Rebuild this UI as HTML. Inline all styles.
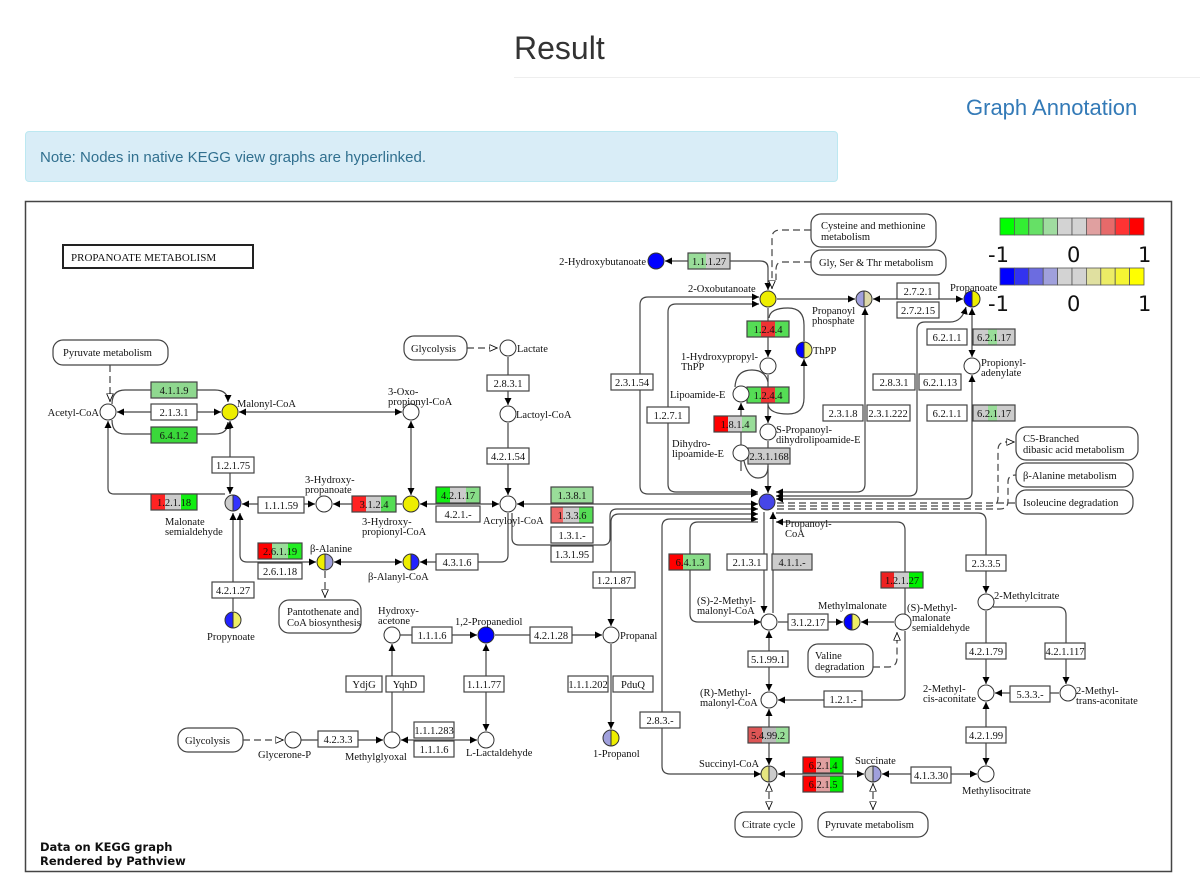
<!DOCTYPE html>
<html><head><meta charset="utf-8"><style>
body{margin:0;width:1200px;height:886px;background:#fff;position:relative;overflow:hidden;font-family:"Liberation Sans",sans-serif}
.h{position:absolute;left:514px;top:30px;font-size:32px;color:#333}
.hr{position:absolute;left:514px;top:77px;width:686px;border-top:1px solid #eee}
.ga{position:absolute;left:966px;top:95px;font-size:22px;color:#337ab7}
.al{position:absolute;left:25px;top:131px;width:813px;height:51px;background:#d9edf7;border:1px solid #bce8f1;border-radius:4px;box-sizing:border-box}
.al span{position:absolute;left:14px;top:17px;font-size:15px;color:#31708f}
svg{position:absolute;left:0;top:0}
svg text{font-family:"Liberation Serif",serif;font-size:10.5px;fill:#111}
.e rect.b{fill:none;stroke:#444;stroke-width:1.2}
.ln{fill:none;stroke:#444;stroke-width:1.2}
.ds{fill:none;stroke:#444;stroke-width:1.2;stroke-dasharray:7,4}
.m{fill:#fff;stroke:#444;stroke-width:1.2}
</style></head><body>
<div class="h">Result</div><div class="hr"></div>
<div class="ga">Graph Annotation</div>
<div class="al"><span>Note: Nodes in native KEGG view graphs are hyperlinked.</span></div>
<svg width="1200" height="886" viewBox="0 0 1200 886">
<defs>
<marker id="a" viewBox="0 0 10 10" refX="10" refY="5" markerWidth="6" markerHeight="6" orient="auto-start-reverse"><path d="M0,0L10,5L0,10z" fill="#000"/></marker>
<marker id="o" viewBox="0 0 10 10" refX="10" refY="5" markerWidth="7" markerHeight="7" orient="auto-start-reverse"><path d="M0,1L9,5L0,9z" fill="#fff" stroke="#000" stroke-width="1"/></marker>
</defs>
<rect x="25.5" y="201.5" width="1146" height="670" fill="#fff" stroke="#444" stroke-width="1.5"/>
<rect x="63" y="245" width="190" height="23" fill="#fff" stroke="#222" stroke-width="2"/>
<text x="71" y="261" style="font-size:11px">PROPANOATE  METABOLISM</text>

<!-- legend -->
<g stroke="#555" stroke-width="0.8">
<rect x="1000" y="218" width="14.4" height="17" fill="#00ff00"/><rect x="1014.4" y="218" width="14.4" height="17" fill="#33ee33"/><rect x="1028.8" y="218" width="14.4" height="17" fill="#66e066"/><rect x="1043.2" y="218" width="14.4" height="17" fill="#a0dca0"/><rect x="1057.6" y="218" width="14.4" height="17" fill="#d3d3d3"/><rect x="1072" y="218" width="14.4" height="17" fill="#d3d3d3"/><rect x="1086.4" y="218" width="14.4" height="17" fill="#e0a0a0"/><rect x="1100.8" y="218" width="14.4" height="17" fill="#e66a6a"/><rect x="1115.2" y="218" width="14.4" height="17" fill="#f33"/><rect x="1129.6" y="218" width="14.4" height="17" fill="#f00"/>
<rect x="1000" y="268" width="14.4" height="17" fill="#0000ff"/><rect x="1014.4" y="268" width="14.4" height="17" fill="#3333f0"/><rect x="1028.8" y="268" width="14.4" height="17" fill="#6c6ce0"/><rect x="1043.2" y="268" width="14.4" height="17" fill="#a0a0dc"/><rect x="1057.6" y="268" width="14.4" height="17" fill="#d3d3d3"/><rect x="1072" y="268" width="14.4" height="17" fill="#d3d3d3"/><rect x="1086.4" y="268" width="14.4" height="17" fill="#e0e0a0"/><rect x="1100.8" y="268" width="14.4" height="17" fill="#ecec66"/><rect x="1115.2" y="268" width="14.4" height="17" fill="#f5f533"/><rect x="1129.6" y="268" width="14.4" height="17" fill="#ffff00"/>
</g>
<text x="988" y="262" style="font-family:'DejaVu Sans',sans-serif;font-size:21px">-1</text><text x="1067" y="262" style="font-family:'DejaVu Sans',sans-serif;font-size:21px">0</text><text x="1138" y="262" style="font-family:'DejaVu Sans',sans-serif;font-size:21px">1</text>
<text x="988" y="311" style="font-family:'DejaVu Sans',sans-serif;font-size:21px">-1</text><text x="1067" y="311" style="font-family:'DejaVu Sans',sans-serif;font-size:21px">0</text><text x="1138" y="311" style="font-family:'DejaVu Sans',sans-serif;font-size:21px">1</text>

<!-- lines -->
<g class="ln">
<path class="ds" d="M110,365V402" marker-end="url(#o)"/>
<path d="M117,412H221" marker-start="url(#a)" marker-end="url(#a)"/>
<path d="M112,404Q112,390 125,390H215Q228,390 228,402" marker-end="url(#a)"/>
<path d="M112,420Q112,434 125,434H215Q228,434 228,422" marker-end="url(#a)"/>
<path d="M239,412H402" marker-start="url(#a)" marker-end="url(#a)"/>
<path d="M230,421V494" marker-start="url(#a)" marker-end="url(#a)"/>
<path d="M108,421V488Q108,494 114,494H225" marker-start="url(#a)"/>
<path d="M242,504H315" marker-start="url(#a)" marker-end="url(#a)"/>
<path d="M333,504H402" marker-start="url(#a)"/>
<path d="M420,504H499" marker-start="url(#a)" marker-end="url(#a)"/>
<path d="M411,421V495" marker-start="url(#a)" marker-end="url(#a)"/>
<path class="ds" d="M467,348H498" marker-end="url(#o)"/>
<path d="M508,357V405" marker-end="url(#a)"/>
<path d="M508,423V495" marker-end="url(#a)"/>
<path d="M517,504H758" marker-start="url(#a)" marker-end="url(#a)"/>
<path d="M508,513V555Q508,562 501,562H420" marker-end="url(#a)"/>
<path d="M334,562H402" marker-start="url(#a)" marker-end="url(#a)"/>
<path d="M240,513V555Q240,562 247,562H316" marker-start="url(#a)" marker-end="url(#a)"/>
<path d="M233,513V611" marker-start="url(#a)"/>
<path class="ds" d="M325,571V598" marker-end="url(#o)"/>
<path d="M512,513V538Q512,545 519,545H603Q610,545 610,538V516Q610,509 617,509H758" marker-end="url(#a)"/>
<path d="M611,626V522Q611,514 619,514H758" marker-start="url(#a)" marker-end="url(#a)"/>
<path d="M761,774H670Q662,774 662,766V527Q662,519 670,519H758" marker-start="url(#a)" marker-end="url(#a)"/>
<path d="M761,622H698Q690,622 690,614V530Q690,522 698,522H758" marker-start="url(#a)"/>
<path d="M764,512V613" marker-end="url(#a)"/>
<path d="M773,613V512" marker-end="url(#a)"/>
<path d="M905,614V530Q905,522 897,522H776" marker-end="url(#a)"/>
<path d="M776,513H978Q986,513 986,521V593" marker-end="url(#a)"/>
<path d="M986,611V684" marker-end="url(#a)"/>
<path d="M993,607H1058Q1066,607 1066,615V684" marker-end="url(#a)"/>
<path d="M1059,693H995" marker-end="url(#a)"/>
<path d="M986,765V702" marker-start="url(#a)" marker-end="url(#a)"/>
<path d="M882,774H977" marker-start="url(#a)" marker-end="url(#a)"/>
<path d="M778,774H864" marker-start="url(#a)" marker-end="url(#a)"/>
<path class="ds" d="M769,810V783" marker-start="url(#o)" marker-end="url(#o)"/>
<path class="ds" d="M873,810V783" marker-start="url(#o)" marker-end="url(#o)"/>
<path d="M769,709V765" marker-start="url(#a)" marker-end="url(#a)"/>
<path d="M769,631V691" marker-start="url(#a)" marker-end="url(#a)"/>
<path d="M894,622H861" marker-end="url(#a)"/>
<path d="M778,622H843" marker-end="url(#a)"/>
<path d="M905,631V693Q905,700 898,700H778" marker-end="url(#a)"/>
<path class="ds" d="M873,667H888Q897,667 897,658V632" marker-end="url(#o)"/>
<path d="M768,290V268Q768,261 760,261H665" marker-start="url(#a)" marker-end="url(#a)"/>
<path class="ds" d="M811,230H780Q772,230 772,238V289" marker-end="url(#o)"/>
<path class="ds" d="M811,262H782Q776,262 776,270V280"/>
<path d="M777,299H855" marker-end="url(#a)"/>
<path d="M873,299H963" marker-start="url(#a)" marker-end="url(#a)"/>
<path d="M972,308V357" marker-start="url(#a)" marker-end="url(#a)"/>
<path d="M972,375V492Q972,499 964,499H776" marker-start="url(#a)" marker-end="url(#a)"/>
<path d="M966,307Q962,322 950,322H925Q917,322 917,330V488Q917,496 909,496H776" marker-start="url(#a)" marker-end="url(#a)"/>
<path d="M865,308V484Q865,492 857,492H776" marker-start="url(#a)" marker-end="url(#a)"/>
<path d="M759,297H648Q640,297 640,305V486Q640,494 648,494H758" marker-start="url(#a)" marker-end="url(#a)"/>
<path d="M759,304H676Q668,304 668,312V484Q668,492 676,492H758" marker-start="url(#a)" marker-end="url(#a)"/>
<path d="M768,308V357" marker-end="url(#a)"/>
<path d="M768,375V423" marker-end="url(#a)"/>
<path d="M768,441V493" marker-end="url(#a)"/>
<path d="M769,318Q770,308 788,308Q804,308 804,325V341"/>
<path d="M804,359V398Q804,414 788,414Q770,414 768,405" marker-start="url(#a)"/>
<path d="M768,382Q765,370 752,370Q736,370 735,387"/>
<path d="M741,445V403" marker-end="url(#a)"/>
<path d="M744,461Q748,478 758,478Q768,478 768,466"/>
<path d="M741,461V471" />
<path class="ds" d="M777,506H990Q998,506 998,498V450Q998,442 1006,442H1015" marker-end="url(#o)"/>
<path class="ds" d="M777,509H1000Q1008,509 1008,501V482Q1008,475 1016,475"/>
<path class="ds" d="M777,503H1016"/>
<path class="ds" d="M243,740H284" marker-end="url(#o)"/>
<path d="M301,740H383" marker-end="url(#a)"/>
<path d="M392,732V644" marker-end="url(#a)"/>
<path d="M401,740H477" marker-start="url(#a)" marker-end="url(#a)"/>
<path d="M486,731V644" marker-start="url(#a)" marker-end="url(#a)"/>
<path d="M400,635H477" marker-end="url(#a)"/>
<path d="M495,635H602" marker-end="url(#a)"/>
<path d="M611,644V729" marker-end="url(#a)"/>
</g>

<!-- enzymes -->
<g class="e">
<rect x="151" y="382" width="46" height="16" fill="#8fd88f"/><rect class="b" x="151" y="382" width="46" height="16"/><text x="174" y="394" text-anchor="middle">4.1.1.9</text>
<rect x="151" y="404" width="46" height="16" fill="#fff"/><rect class="b" x="151" y="404" width="46" height="16"/><text x="174" y="416" text-anchor="middle">2.1.3.1</text>
<rect x="151" y="427" width="46" height="16" fill="#3ad83a"/><rect class="b" x="151" y="427" width="46" height="16"/><text x="174" y="439" text-anchor="middle">6.4.1.2</text>
<rect x="212" y="457" width="42" height="16" fill="#fff"/><rect class="b" x="212" y="457" width="42" height="16"/><text x="233" y="469" text-anchor="middle">1.2.1.75</text>
<rect x="151" y="494" width="14" height="16" fill="#f22"/><rect x="165" y="494" width="16" height="16" fill="#ccc"/><rect x="181" y="494" width="16" height="16" fill="#1e1"/><rect class="b" x="151" y="494" width="46" height="16"/><text x="174" y="506" text-anchor="middle">1.2.1.18</text>
<rect x="258" y="497" width="46" height="16" fill="#fff"/><rect class="b" x="258" y="497" width="46" height="16"/><text x="281" y="509" text-anchor="middle">1.1.1.59</text>
<rect x="352" y="496" width="14" height="16" fill="#f22"/><rect x="366" y="496" width="15" height="16" fill="#ccc"/><rect x="381" y="496" width="15" height="16" fill="#5d5"/><rect class="b" x="352" y="496" width="44" height="16"/><text x="374" y="508" text-anchor="middle">3.1.2.4</text>
<rect x="436" y="487" width="14" height="16" fill="#1e1"/><rect x="450" y="487" width="16" height="16" fill="#ccc"/><rect x="466" y="487" width="14" height="16" fill="#8d8"/><rect class="b" x="436" y="487" width="44" height="16"/><text x="458" y="499" text-anchor="middle">4.2.1.17</text>
<rect x="436" y="506" width="44" height="16" fill="#fff"/><rect class="b" x="436" y="506" width="44" height="16"/><text x="458" y="518" text-anchor="middle">4.2.1.-</text>
<rect x="487" y="375" width="42" height="16" fill="#fff"/><rect class="b" x="487" y="375" width="42" height="16"/><text x="508" y="387" text-anchor="middle">2.8.3.1</text>
<rect x="487" y="448" width="42" height="16" fill="#fff"/><rect class="b" x="487" y="448" width="42" height="16"/><text x="508" y="460" text-anchor="middle">4.2.1.54</text>
<rect x="551" y="487" width="42" height="16" fill="#99dd99"/><rect class="b" x="551" y="487" width="42" height="16"/><text x="572" y="499" text-anchor="middle">1.3.8.1</text>
<rect x="551" y="507" width="12" height="16" fill="#e66"/><rect x="563" y="507" width="16" height="16" fill="#ccc"/><rect x="579" y="507" width="14" height="16" fill="#5d5"/><rect class="b" x="551" y="507" width="42" height="16"/><text x="572" y="519" text-anchor="middle">1.3.3.6</text>
<rect x="551" y="527" width="42" height="16" fill="#fff"/><rect class="b" x="551" y="527" width="42" height="16"/><text x="572" y="539" text-anchor="middle">1.3.1.-</text>
<rect x="551" y="546" width="42" height="16" fill="#fff"/><rect class="b" x="551" y="546" width="42" height="16"/><text x="572" y="558" text-anchor="middle">1.3.1.95</text>
<rect x="593" y="572" width="42" height="16" fill="#fff"/><rect class="b" x="593" y="572" width="42" height="16"/><text x="614" y="584" text-anchor="middle">1.2.1.87</text>
<rect x="212" y="582" width="42" height="16" fill="#fff"/><rect class="b" x="212" y="582" width="42" height="16"/><text x="233" y="594" text-anchor="middle">4.2.1.27</text>
<rect x="258" y="543" width="14" height="16" fill="#f00"/><rect x="272" y="543" width="16" height="16" fill="#9d9"/><rect x="288" y="543" width="14" height="16" fill="#2e2"/><rect class="b" x="258" y="543" width="44" height="16"/><text x="280" y="555" text-anchor="middle">2.6.1.19</text>
<rect x="258" y="563" width="44" height="16" fill="#fff"/><rect class="b" x="258" y="563" width="44" height="16"/><text x="280" y="575" text-anchor="middle">2.6.1.18</text>
<rect x="436" y="554" width="42" height="16" fill="#fff"/><rect class="b" x="436" y="554" width="42" height="16"/><text x="457" y="566" text-anchor="middle">4.3.1.6</text>
<rect x="412" y="627" width="40" height="16" fill="#fff"/><rect class="b" x="412" y="627" width="40" height="16"/><text x="432" y="639" text-anchor="middle">1.1.1.6</text>
<rect x="530" y="627" width="42" height="16" fill="#fff"/><rect class="b" x="530" y="627" width="42" height="16"/><text x="551" y="639" text-anchor="middle">4.2.1.28</text>
<rect x="346" y="676" width="36" height="16" fill="#fff"/><rect class="b" x="346" y="676" width="36" height="16"/><text x="364" y="688" text-anchor="middle">YdjG</text>
<rect x="386" y="676" width="38" height="16" fill="#fff"/><rect class="b" x="386" y="676" width="38" height="16"/><text x="405" y="688" text-anchor="middle">YqhD</text>
<rect x="464" y="676" width="40" height="16" fill="#fff"/><rect class="b" x="464" y="676" width="40" height="16"/><text x="484" y="688" text-anchor="middle">1.1.1.77</text>
<rect x="568" y="676" width="40" height="16" fill="#fff"/><rect class="b" x="568" y="676" width="40" height="16"/><text x="588" y="688" text-anchor="middle">1.1.1.202</text>
<rect x="613" y="676" width="40" height="16" fill="#fff"/><rect class="b" x="613" y="676" width="40" height="16"/><text x="633" y="688" text-anchor="middle">PduQ</text>
<rect x="318" y="731" width="40" height="16" fill="#fff"/><rect class="b" x="318" y="731" width="40" height="16"/><text x="338" y="743" text-anchor="middle">4.2.3.3</text>
<rect x="414" y="722" width="40" height="16" fill="#fff"/><rect class="b" x="414" y="722" width="40" height="16"/><text x="434" y="734" text-anchor="middle">1.1.1.283</text>
<rect x="414" y="741" width="40" height="16" fill="#fff"/><rect class="b" x="414" y="741" width="40" height="16"/><text x="434" y="753" text-anchor="middle">1.1.1.6</text>
<rect x="688" y="253" width="18" height="16" fill="#9d9"/><rect x="706" y="253" width="24" height="16" fill="#ccc"/><rect class="b" x="688" y="253" width="42" height="16"/><text x="709" y="265" text-anchor="middle">1.1.1.27</text>
<rect x="747" y="321" width="14" height="16" fill="#5d5"/><rect x="761" y="321" width="14" height="16" fill="#e33"/><rect x="775" y="321" width="14" height="16" fill="#5d5"/><rect class="b" x="747" y="321" width="42" height="16"/><text x="768" y="333" text-anchor="middle">1.2.4.4</text>
<rect x="747" y="387" width="14" height="16" fill="#5d5"/><rect x="761" y="387" width="14" height="16" fill="#e33"/><rect x="775" y="387" width="14" height="16" fill="#5d5"/><rect class="b" x="747" y="387" width="42" height="16"/><text x="768" y="399" text-anchor="middle">1.2.4.4</text>
<rect x="714" y="416" width="14" height="16" fill="#f00"/><rect x="728" y="416" width="14" height="16" fill="#ccc"/><rect x="742" y="416" width="14" height="16" fill="#9d9"/><rect class="b" x="714" y="416" width="42" height="16"/><text x="735" y="428" text-anchor="middle">1.8.1.4</text>
<rect x="748" y="448" width="42" height="16" fill="#ccc"/><rect class="b" x="748" y="448" width="42" height="16"/><text x="769" y="460" text-anchor="middle">2.3.1.168</text>
<rect x="611" y="374" width="42" height="16" fill="#fff"/><rect class="b" x="611" y="374" width="42" height="16"/><text x="632" y="386" text-anchor="middle">2.3.1.54</text>
<rect x="647" y="407" width="42" height="16" fill="#fff"/><rect class="b" x="647" y="407" width="42" height="16"/><text x="668" y="419" text-anchor="middle">1.2.7.1</text>
<rect x="823" y="405" width="40" height="16" fill="#fff"/><rect class="b" x="823" y="405" width="40" height="16"/><text x="843" y="417" text-anchor="middle">2.3.1.8</text>
<rect x="867" y="405" width="43" height="16" fill="#fff"/><rect class="b" x="867" y="405" width="43" height="16"/><text x="888" y="417" text-anchor="middle">2.3.1.222</text>
<rect x="873" y="374" width="42" height="16" fill="#fff"/><rect class="b" x="873" y="374" width="42" height="16"/><text x="894" y="386" text-anchor="middle">2.8.3.1</text>
<rect x="919" y="374" width="42" height="16" fill="#fff"/><rect class="b" x="919" y="374" width="42" height="16"/><text x="940" y="386" text-anchor="middle">6.2.1.13</text>
<rect x="897" y="283" width="42" height="16" fill="#fff"/><rect class="b" x="897" y="283" width="42" height="16"/><text x="918" y="295" text-anchor="middle">2.7.2.1</text>
<rect x="897" y="302" width="42" height="16" fill="#fff"/><rect class="b" x="897" y="302" width="42" height="16"/><text x="918" y="314" text-anchor="middle">2.7.2.15</text>
<rect x="927" y="329" width="40" height="16" fill="#fff"/><rect class="b" x="927" y="329" width="40" height="16"/><text x="947" y="341" text-anchor="middle">6.2.1.1</text>
<rect x="973" y="329" width="42" height="16" fill="#ccc"/><rect x="988" y="329" width="9" height="16" fill="#9d9"/><rect class="b" x="973" y="329" width="42" height="16"/><text x="994" y="341" text-anchor="middle">6.2.1.17</text>
<rect x="927" y="405" width="40" height="16" fill="#fff"/><rect class="b" x="927" y="405" width="40" height="16"/><text x="947" y="417" text-anchor="middle">6.2.1.1</text>
<rect x="973" y="405" width="42" height="16" fill="#ccc"/><rect x="988" y="405" width="9" height="16" fill="#9d9"/><rect class="b" x="973" y="405" width="42" height="16"/><text x="994" y="417" text-anchor="middle">6.2.1.17</text>
<rect x="669" y="554" width="14" height="16" fill="#f00"/><rect x="683" y="554" width="27" height="16" fill="#8d8"/><rect class="b" x="669" y="554" width="41" height="16"/><text x="690" y="566" text-anchor="middle">6.4.1.3</text>
<rect x="727" y="554" width="40" height="16" fill="#fff"/><rect class="b" x="727" y="554" width="40" height="16"/><text x="747" y="566" text-anchor="middle">2.1.3.1</text>
<rect x="772" y="554" width="40" height="16" fill="#ccc"/><rect class="b" x="772" y="554" width="40" height="16"/><text x="792" y="566" text-anchor="middle">4.1.1.-</text>
<rect x="881" y="572" width="13" height="16" fill="#e22"/><rect x="894" y="572" width="15" height="16" fill="#ccc"/><rect x="909" y="572" width="14" height="16" fill="#0e0"/><rect class="b" x="881" y="572" width="42" height="16"/><text x="902" y="584" text-anchor="middle">1.2.1.27</text>
<rect x="788" y="614" width="40" height="16" fill="#fff"/><rect class="b" x="788" y="614" width="40" height="16"/><text x="808" y="626" text-anchor="middle">3.1.2.17</text>
<rect x="748" y="651" width="40" height="16" fill="#fff"/><rect class="b" x="748" y="651" width="40" height="16"/><text x="768" y="663" text-anchor="middle">5.1.99.1</text>
<rect x="824" y="691" width="38" height="16" fill="#fff"/><rect class="b" x="824" y="691" width="38" height="16"/><text x="843" y="703" text-anchor="middle">1.2.1.-</text>
<rect x="640" y="712" width="40" height="16" fill="#fff"/><rect class="b" x="640" y="712" width="40" height="16"/><text x="660" y="724" text-anchor="middle">2.8.3.-</text>
<rect x="748" y="727" width="14" height="16" fill="#d55"/><rect x="762" y="727" width="14" height="16" fill="#bbb"/><rect x="776" y="727" width="13" height="16" fill="#9d9"/><rect class="b" x="748" y="727" width="41" height="16"/><text x="768" y="739" text-anchor="middle">5.4.99.2</text>
<rect x="803" y="757" width="13" height="16" fill="#f00"/><rect x="816" y="757" width="14" height="16" fill="#e0a0a0"/><rect x="830" y="757" width="13" height="16" fill="#0e0"/><rect class="b" x="803" y="757" width="40" height="16"/><text x="823" y="769" text-anchor="middle">6.2.1.4</text>
<rect x="803" y="776" width="13" height="16" fill="#f00"/><rect x="816" y="776" width="14" height="16" fill="#e0a0a0"/><rect x="830" y="776" width="13" height="16" fill="#0e0"/><rect class="b" x="803" y="776" width="40" height="16"/><text x="823" y="788" text-anchor="middle">6.2.1.5</text>
<rect x="911" y="767" width="40" height="16" fill="#fff"/><rect class="b" x="911" y="767" width="40" height="16"/><text x="931" y="779" text-anchor="middle">4.1.3.30</text>
<rect x="966" y="555" width="40" height="16" fill="#fff"/><rect class="b" x="966" y="555" width="40" height="16"/><text x="986" y="567" text-anchor="middle">2.3.3.5</text>
<rect x="966" y="643" width="40" height="16" fill="#fff"/><rect class="b" x="966" y="643" width="40" height="16"/><text x="986" y="655" text-anchor="middle">4.2.1.79</text>
<rect x="1045" y="643" width="40" height="16" fill="#fff"/><rect class="b" x="1045" y="643" width="40" height="16"/><text x="1065" y="655" text-anchor="middle">4.2.1.117</text>
<rect x="1010" y="686" width="40" height="16" fill="#fff"/><rect class="b" x="1010" y="686" width="40" height="16"/><text x="1030" y="698" text-anchor="middle">5.3.3.-</text>
<rect x="966" y="727" width="40" height="16" fill="#fff"/><rect class="b" x="966" y="727" width="40" height="16"/><text x="986" y="739" text-anchor="middle">4.2.1.99</text>
</g>

<!-- maps -->
<g class="m">
<rect x="53" y="340" width="115" height="25" rx="10"/>
<rect x="404" y="336" width="63" height="24" rx="10"/>
<rect x="811" y="214" width="125" height="33" rx="10"/>
<rect x="811" y="250" width="135" height="25" rx="10"/>
<rect x="1016" y="427" width="122" height="33" rx="10"/>
<rect x="1016" y="463" width="117" height="24" rx="10"/>
<rect x="1016" y="490" width="117" height="24" rx="10"/>
<rect x="279" y="600" width="82" height="33" rx="10"/>
<rect x="808" y="644" width="65" height="33" rx="10"/>
<rect x="178" y="728" width="65" height="24" rx="10"/>
<rect x="735" y="812" width="67" height="25" rx="10"/>
<rect x="818" y="812" width="110" height="25" rx="10"/>
</g>
<text x="63" y="356">Pyruvate metabolism</text>
<text x="411" y="352">Glycolysis</text>
<text x="821" y="229">Cysteine and methionine</text><text x="821" y="240">metabolism</text>
<text x="819" y="266">Gly, Ser &amp; Thr metabolism</text>
<text x="1023" y="442">C5-Branched</text><text x="1023" y="453">dibasic acid metabolism</text>
<text x="1023" y="479">β-Alanine metabolism</text>
<text x="1023" y="506">Isoleucine degradation</text>
<text x="287" y="615">Pantothenate and</text><text x="287" y="626">CoA biosynthesis</text>
<text x="815" y="659">Valine</text><text x="815" y="670">degradation</text>
<text x="185" y="744">Glycolysis</text>
<text x="742" y="828">Citrate cycle</text>
<text x="825" y="828">Pyruvate metabolism</text>

<!-- compounds -->
<g stroke="#333" stroke-width="1">
<circle cx="108" cy="412" r="8" fill="#fff"/>
<circle cx="230" cy="412" r="8" fill="#ee0"/>
<circle cx="411" cy="412" r="8" fill="#fff"/>
<circle cx="508" cy="348" r="8" fill="#fff"/>
<circle cx="508" cy="414" r="8" fill="#fff"/>
<circle cx="508" cy="504" r="8" fill="#fff"/>
<circle cx="411" cy="504" r="8" fill="#ee0"/>
<circle cx="324" cy="504" r="8" fill="#fff"/>
<path d="M233,495A8,8 0 0 0 233,511Z" fill="#ccc"/><path d="M233,495A8,8 0 0 1 233,511Z" fill="#33f"/>
<path d="M233,612A8,8 0 0 0 233,628Z" fill="#22f"/><path d="M233,612A8,8 0 0 1 233,628Z" fill="#ee6"/>
<path d="M325,554A8,8 0 0 0 325,570Z" fill="#ee0"/><path d="M325,554A8,8 0 0 1 325,570Z" fill="#a0a0dc"/>
<path d="M411,554A8,8 0 0 0 411,570Z" fill="#ee0"/><path d="M411,554A8,8 0 0 1 411,570Z" fill="#22f"/>
<circle cx="392" cy="635" r="8" fill="#fff"/>
<circle cx="486" cy="635" r="8" fill="#00f"/>
<circle cx="611" cy="635" r="8" fill="#fff"/>
<path d="M611,730A8,8 0 0 0 611,746Z" fill="#a0a0dc"/><path d="M611,730A8,8 0 0 1 611,746Z" fill="#ee0"/>
<circle cx="293" cy="740" r="8" fill="#fff"/>
<circle cx="392" cy="740" r="8" fill="#fff"/>
<circle cx="486" cy="740" r="8" fill="#fff"/>
<circle cx="656" cy="261" r="8" fill="#00f"/>
<circle cx="768" cy="299" r="8" fill="#ee0"/>
<path d="M864,291A8,8 0 0 0 864,307Z" fill="#a0a0dc"/><path d="M864,291A8,8 0 0 1 864,307Z" fill="#ddd8a8"/>
<path d="M972,291A8,8 0 0 0 972,307Z" fill="#00f"/><path d="M972,291A8,8 0 0 1 972,307Z" fill="#ee0"/>
<path d="M804,342A8,8 0 0 0 804,358Z" fill="#00f"/><path d="M804,342A8,8 0 0 1 804,358Z" fill="#ee6"/>
<circle cx="768" cy="366" r="8" fill="#fff"/>
<circle cx="741" cy="394" r="8" fill="#fff"/>
<circle cx="768" cy="432" r="8" fill="#fff"/>
<circle cx="741" cy="453" r="8" fill="#fff"/>
<circle cx="767" cy="502" r="8" fill="#4646e8"/>
<circle cx="972" cy="366" r="8" fill="#fff"/>
<circle cx="769" cy="622" r="8" fill="#fff"/>
<path d="M852,614A8,8 0 0 0 852,630Z" fill="#00f"/><path d="M852,614A8,8 0 0 1 852,630Z" fill="#ee6"/>
<circle cx="903" cy="622" r="8" fill="#fff"/>
<circle cx="769" cy="700" r="8" fill="#fff"/>
<path d="M769,766A8,8 0 0 0 769,782Z" fill="#e6e680"/><path d="M769,766A8,8 0 0 1 769,782Z" fill="#ccc"/>
<path d="M873,766A8,8 0 0 0 873,782Z" fill="#ccc"/><path d="M873,766A8,8 0 0 1 873,782Z" fill="#a0a0dc"/>
<circle cx="986" cy="602" r="8" fill="#fff"/>
<circle cx="986" cy="693" r="8" fill="#fff"/>
<circle cx="1068" cy="693" r="8" fill="#fff"/>
<circle cx="986" cy="774" r="8" fill="#fff"/>
</g>
<g>
<text x="99" y="416" text-anchor="end">Acetyl-CoA</text>
<text x="237" y="407">Malonyl-CoA</text>
<text x="388" y="395">3-Oxo-</text><text x="388" y="405">propionyl-CoA</text>
<text x="517" y="352">Lactate</text>
<text x="516" y="418">Lactoyl-CoA</text>
<text x="483" y="524">Acryloyl-CoA</text>
<text x="362" y="525">3-Hydroxy-</text><text x="362" y="535">propionyl-CoA</text>
<text x="305" y="483">3-Hydroxy-</text><text x="305" y="493">propanoate</text>
<text x="165" y="525">Malonate</text><text x="165" y="535">semialdehyde</text>
<text x="207" y="640">Propynoate</text>
<text x="310" y="552">β-Alanine</text>
<text x="368" y="580">β-Alanyl-CoA</text>
<text x="378" y="614">Hydroxy-</text><text x="378" y="624">acetone</text>
<text x="455" y="625">1,2-Propanediol</text>
<text x="620" y="639">Propanal</text>
<text x="593" y="757">1-Propanol</text>
<text x="258" y="758">Glycerone-P</text>
<text x="345" y="760">Methylglyoxal</text>
<text x="466" y="756">L-Lactaldehyde</text>
<text x="646" y="265" text-anchor="end">2-Hydroxybutanoate</text>
<text x="688" y="292">2-Oxobutanoate</text>
<text x="812" y="314">Propanoyl</text><text x="812" y="324">phosphate</text>
<text x="950" y="291">Propanoate</text>
<text x="813" y="354">ThPP</text>
<text x="681" y="360">1-Hydroxypropyl-</text><text x="681" y="370">ThPP</text>
<text x="670" y="398">Lipoamide-E</text>
<text x="776" y="433">S-Propanoyl-</text><text x="776" y="443">dihydrolipoamide-E</text>
<text x="672" y="447">Dihydro-</text><text x="672" y="457">lipoamide-E</text>
<text x="785" y="527">Propanoyl-</text><text x="785" y="537">CoA</text>
<text x="981" y="366">Propionyl-</text><text x="981" y="376">adenylate</text>
<text x="697" y="604">(S)-2-Methyl-</text><text x="697" y="614">malonyl-CoA</text>
<text x="818" y="609">Methylmalonate</text>
<text x="907" y="611">(S)-Methyl-</text><text x="912" y="621">malonate</text><text x="912" y="631">semialdehyde</text>
<text x="700" y="696">(R)-Methyl-</text><text x="700" y="706">malonyl-CoA</text>
<text x="699" y="767">Succinyl-CoA</text>
<text x="855" y="764">Succinate</text>
<text x="994" y="599">2-Methylcitrate</text>
<text x="923" y="692">2-Methyl-</text><text x="923" y="702">cis-aconitate</text>
<text x="1076" y="694">2-Methyl-</text><text x="1076" y="704">trans-aconitate</text>
<text x="962" y="794">Methylisocitrate</text>
</g>
<text x="40" y="851" style="font-family:'DejaVu Sans',sans-serif;font-size:11.5px;font-weight:bold">Data on KEGG graph</text>
<text x="40" y="865" style="font-family:'DejaVu Sans',sans-serif;font-size:11.5px;font-weight:bold">Rendered by Pathview</text>
</svg>
</body></html>
